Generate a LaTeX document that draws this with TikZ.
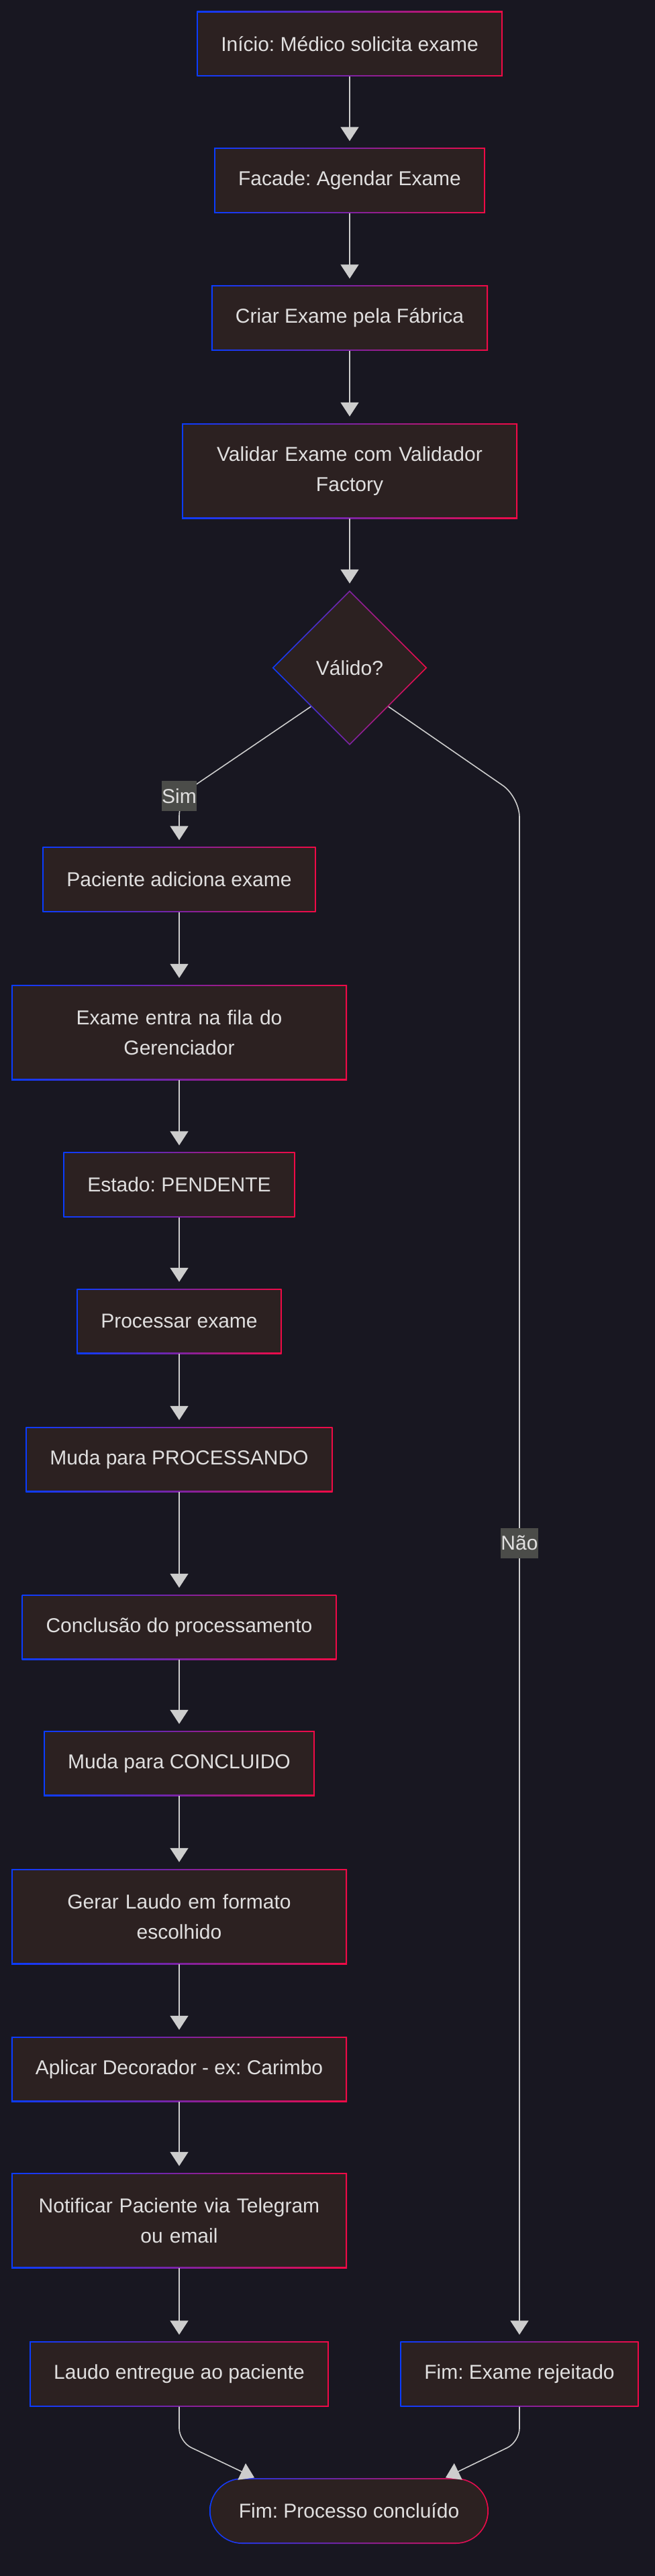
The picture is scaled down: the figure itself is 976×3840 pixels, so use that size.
\documentclass[tikz,border=0pt]{standalone}
\usepackage{fontspec}
\setmainfont{Liberation Sans}
\usepackage{xcolor}
\usepackage{tikz}
\usetikzlibrary{arrows.meta,shapes.geometric,shapes.misc}

\definecolor{fundo}{RGB}{24,23,33}
\definecolor{caixa}{RGB}{44,33,33}
\definecolor{texto}{RGB}{224,223,223}
\definecolor{linha}{RGB}{205,205,205}
\definecolor{rotfundo}{RGB}{75,76,73}
\definecolor{gazul}{RGB}{10,60,255}
\definecolor{gverm}{RGB}{240,10,70}
\frenchspacing

\begin{document}
\begin{tikzpicture}[x=1pt, y=-1pt,
  etapa/.style={rectangle, left color=gazul, right color=gverm, text=texto,
    font=\fontsize{30}{45}\selectfont, inner xsep=36pt, inner ysep=0pt, minimum height=97pt,
    path picture={\fill[caixa] ([shift={(1.8pt,1.8pt)}]path picture bounding box.south west) rectangle ([shift={(-1.8pt,-1.8pt)}]path picture bounding box.north east);}},
  etapa2/.style={etapa, text width=428pt, align=center, minimum height=142pt},
  decisao/.style={diamond, aspect=1, left color=gazul, right color=gverm, text=texto,
    font=\fontsize{30}{45}\selectfont, inner sep=0pt, minimum width=231pt, minimum height=231pt,
    path picture={\fill[caixa] ([yshift=-2.5pt]path picture bounding box.north) -- ([xshift=-2.5pt]path picture bounding box.east) -- ([yshift=2.5pt]path picture bounding box.south) -- ([xshift=2.5pt]path picture bounding box.west) -- cycle;}},
  terminal/.style={rounded rectangle, left color=gazul, right color=gverm, text=texto,
    font=\fontsize{30}{45}\selectfont, inner sep=0pt, minimum width=416pt, minimum height=98pt,
    path picture={\fill[caixa, rounded corners=47pt] ([shift={(1.8pt,1.8pt)}]path picture bounding box.south west) rectangle ([shift={(-1.8pt,-1.8pt)}]path picture bounding box.north east);}},
  seta/.style={draw=linha, line width=1.6pt, -{Triangle[length=21pt,width=27pt]}, shorten >=10pt},
  rotulo/.style={fill=rotfundo, text=texto, font=\fontsize{30}{45}\selectfont, inner xsep=0.5pt, inner ysep=0pt, minimum height=45pt}]
\fill[fundo] (0,0) rectangle (976,3840);
\useasboundingbox (0,0) rectangle (976,3840);

\node[etapa] (inicio) at (521,65.5) {Início: Médico solicita exame};
\node[etapa] (facade) at (521,269) {Facade: Agendar Exame};
\node[etapa] (criar) at (521,474) {Criar Exame pela Fábrica};
\node[etapa2] (validar) at (521,702) {Validar Exame com Validador\\Factory};
\node[decisao] (valido) at (521,995.5) {Válido?};

\node[etapa] (paciente) at (267,1311) {Paciente adiciona exame};
\node[etapa2] (fila) at (267,1539) {Exame entra na fila do\\Gerenciador};
\node[etapa] (estado) at (267,1766) {Estado: PENDENTE};
\node[etapa] (processar) at (267,1969.5) {Processar exame};
\node[etapa] (muda1) at (267,2175.5) {Muda para PROCESSANDO};
\node[etapa] (conclusao) at (267,2425.5) {Conclusão do processamento};
\node[etapa] (muda2) at (267,2628.5) {Muda para CONCLUIDO};
\node[etapa2] (gerar) at (267,2857) {Gerar Laudo em formato\\escolhido};
\node[etapa] (aplicar) at (267,3084.5) {Aplicar Decorador - ex: Carimbo};
\node[etapa2] (notificar) at (267,3310) {Notificar Paciente via Telegram\\ou email};
\node[etapa] (laudo) at (267,3539) {Laudo entregue ao paciente};

\node[etapa] (rejeitado) at (774,3539) {Fim: Exame rejeitado};
\node[terminal] (fim) at (520,3743) {Fim: Processo concluído};

\draw[seta] (inicio.south) -- (facade.north);
\draw[seta] (facade.south) -- (criar.north);
\draw[seta] (criar.south) -- (validar.north);
\draw[seta] (validar.south) -- (valido.north);

\coordinate (simpt) at (267,1186.5);
\coordinate (naocurva) at (774,1188);
\draw[seta, rounded corners=30pt] (valido.south west) -- (simpt) -- (paciente.north);
\draw[seta, rounded corners=30pt] (valido.south east) -- (naocurva) -- (rejeitado.north);
\node[rotulo] (sim) at (simpt) {Sim};
\node[rotulo] (nao) at (774,2300) {Não};

\draw[seta] (paciente.south) -- (fila.north);
\draw[seta] (fila.south) -- (estado.north);
\draw[seta] (estado.south) -- (processar.north);
\draw[seta] (processar.south) -- (muda1.north);
\draw[seta] (muda1.south) -- (conclusao.north);
\draw[seta] (conclusao.south) -- (muda2.north);
\draw[seta] (muda2.south) -- (gerar.north);
\draw[seta] (gerar.south) -- (aplicar.north);
\draw[seta] (aplicar.south) -- (notificar.north);
\draw[seta] (notificar.south) -- (laudo.north);

\coordinate (lcurva) at (267,3640);
\coordinate (rcurva) at (774,3640);
\draw[seta, rounded corners=20pt, shorten >=1pt] (laudo.south) -- (lcurva) -- ([xshift=-140pt]fim.north);
\draw[seta, rounded corners=20pt, shorten >=1pt] (rejeitado.south) -- (rcurva) -- ([xshift=143pt]fim.north);
\end{tikzpicture}
\end{document}
